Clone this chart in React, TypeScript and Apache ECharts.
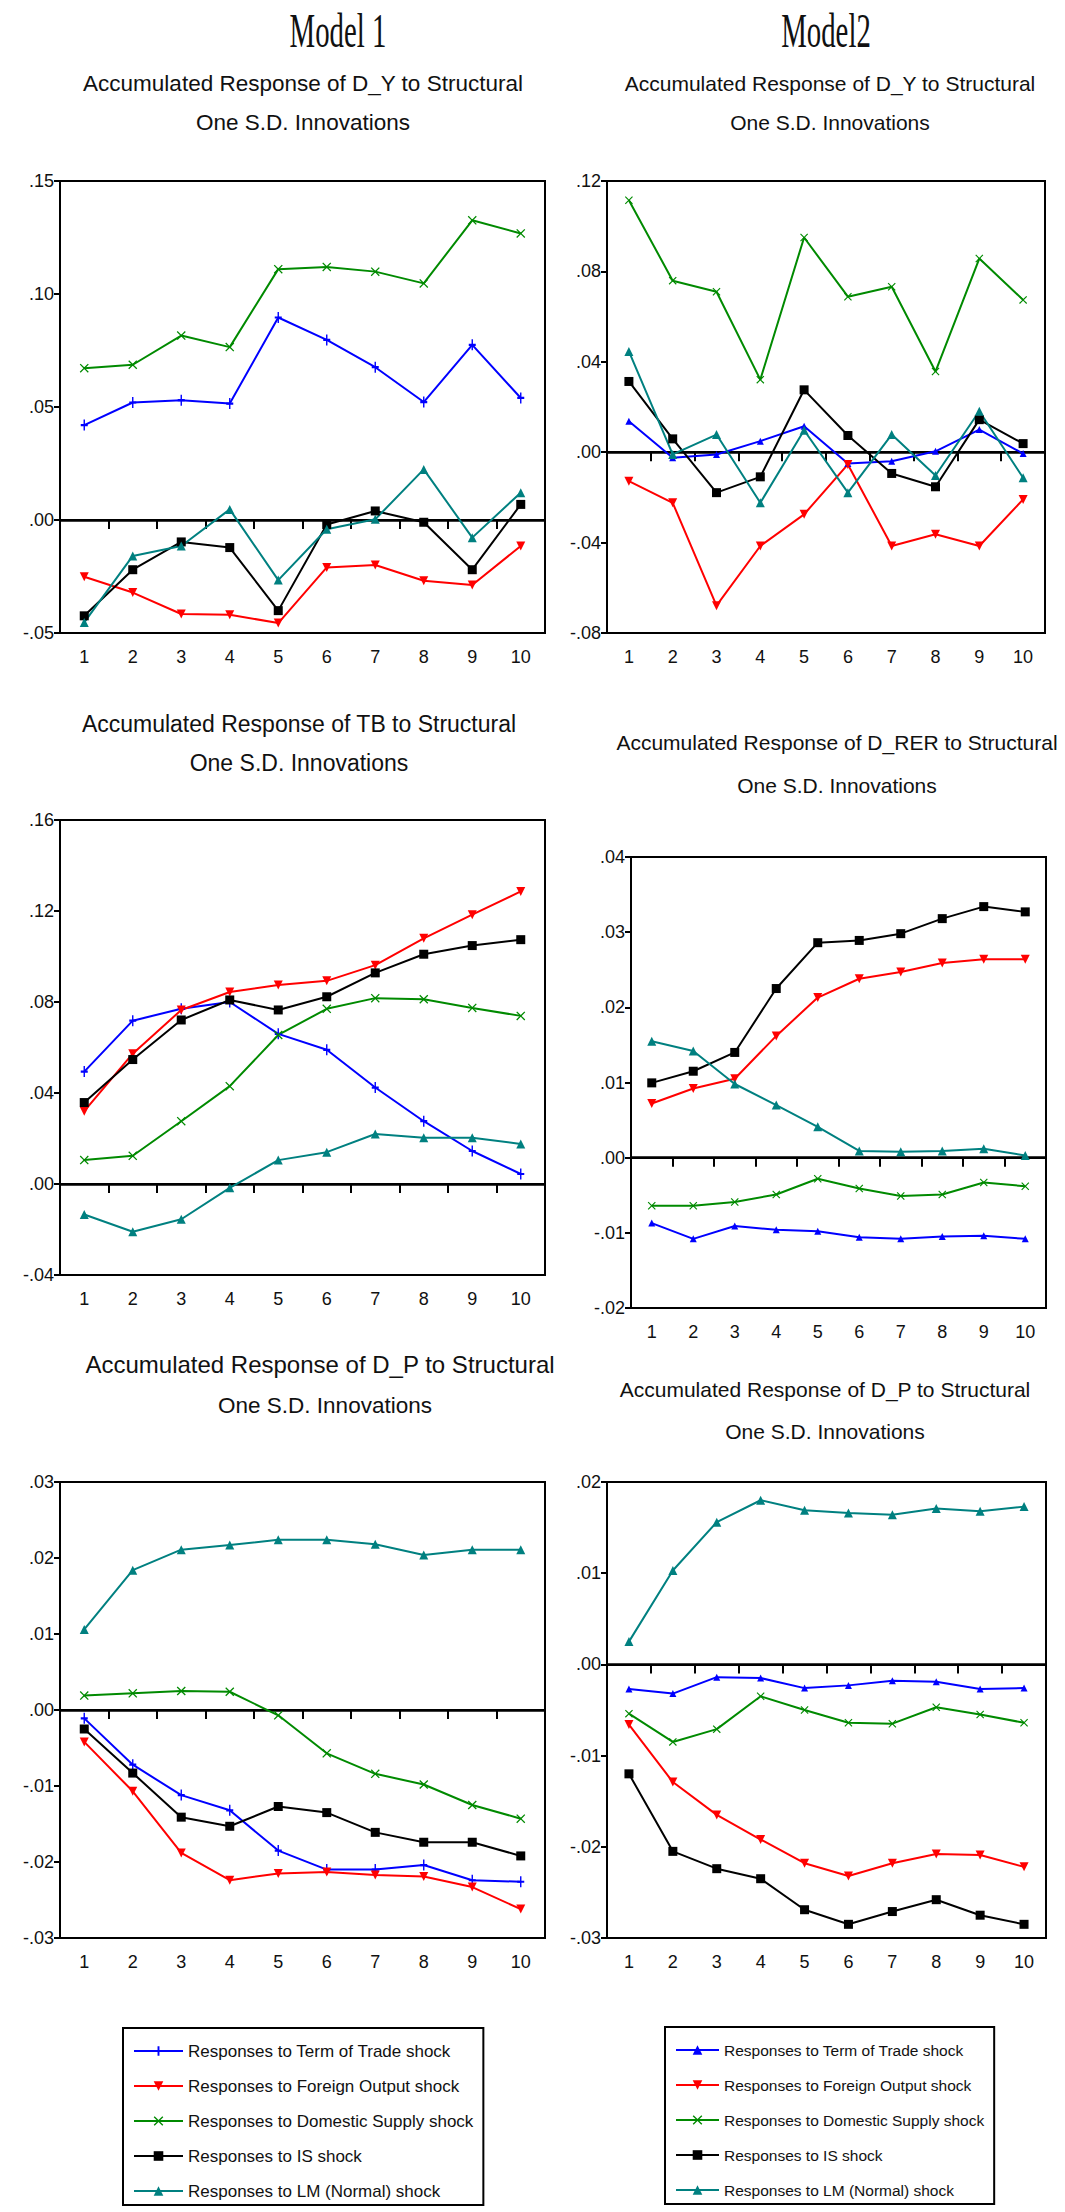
import React, { useEffect, useRef } from "react";
import * as echarts from "echarts";

// ---------- data ----------
const periods = ["1", "2", "3", "4", "5", "6", "7", "8", "9", "10"];
const shockNames = [
  "Responses to Term of Trade shock",
  "Responses to Foreign Output shock",
  "Responses to Domestic Supply shock",
  "Responses to IS shock",
  "Responses to LM (Normal) shock",
];

// Model 1 – Accumulated response of D_Y
const m1DyTot = [0.042, 0.052, 0.053, 0.0515, 0.0896, 0.0797, 0.0676, 0.0522, 0.0775, 0.054];
const m1DyFo = [-0.0251, -0.0321, -0.0416, -0.0419, -0.0456, -0.021, -0.0199, -0.0269, -0.0288, -0.0115];
const m1DyDs = [0.0672, 0.0687, 0.0816, 0.0765, 0.111, 0.112, 0.1099, 0.1047, 0.1326, 0.1268];
const m1DyIs = [-0.0424, -0.022, -0.0097, -0.0122, -0.0401, -0.002, 0.004, -0.001, -0.022, 0.0069];
const m1DyLm = [-0.0453, -0.0159, -0.0115, 0.0047, -0.0266, -0.0041, 0.0003, 0.0224, -0.0078, 0.0121];

// Model 2 – Accumulated response of D_Y
const m2DyTot = [0.0137, -0.0025, -0.001, 0.0049, 0.0115, -0.005, -0.004, 0.0004, 0.01, -0.0006];
const m2DyFo = [-0.0128, -0.0224, -0.0679, -0.0415, -0.0275, -0.0054, -0.0415, -0.0363, -0.0415, -0.0209];
const m2DyDs = [0.1115, 0.0759, 0.071, 0.0321, 0.095, 0.0688, 0.0732, 0.0357, 0.0857, 0.0674];
const m2DyIs = [0.0313, 0.0059, -0.0179, -0.0109, 0.0276, 0.0074, -0.0094, -0.0153, 0.0144, 0.0038];
const m2DyLm = [0.0446, -0.001, 0.0078, -0.0224, 0.0097, -0.0179, 0.0078, -0.0103, 0.0181, -0.0113];

// Model 1 – Accumulated response of TB
const m1TbTot = [0.0494, 0.0718, 0.077, 0.08, 0.066, 0.059, 0.0424, 0.0276, 0.0145, 0.0044];
const m1TbFo = [0.032, 0.0573, 0.0765, 0.0844, 0.0875, 0.0893, 0.0962, 0.108, 0.1184, 0.1286];
const m1TbDs = [0.0105, 0.0124, 0.0276, 0.043, 0.0655, 0.077, 0.0817, 0.0812, 0.0774, 0.0739];
const m1TbIs = [0.0358, 0.0547, 0.0721, 0.0809, 0.0765, 0.0823, 0.0928, 0.101, 0.1048, 0.1074];
const m1TbLm = [-0.0134, -0.021, -0.0155, -0.0017, 0.0105, 0.014, 0.022, 0.0203, 0.0203, 0.0176];

// Model 2 – Accumulated response of D_RER
const m2RerTot = [-0.0087, -0.0108, -0.0091, -0.0096, -0.0098, -0.0106, -0.0108, -0.0105, -0.0104, -0.0108];
const m2RerFo = [0.0072, 0.0092, 0.0105, 0.0162, 0.0213, 0.0238, 0.0247, 0.0259, 0.0264, 0.0264];
const m2RerDs = [-0.0064, -0.0064, -0.0059, -0.0049, -0.0028, -0.0041, -0.0051, -0.0049, -0.0033, -0.0038];
const m2RerIs = [0.00995, 0.0115, 0.014, 0.0225, 0.0286, 0.0289, 0.0298, 0.0318, 0.0334, 0.0327];
const m2RerLm = [0.0155, 0.0142, 0.0098, 0.007, 0.0041, 0.0009, 0.0008, 0.0009, 0.0012, 0.0003];

// Model 1 – Accumulated response of D_P
const m1DpTot = [-0.0011, -0.0072, -0.0112, -0.0132, -0.0185, -0.021, -0.021, -0.0204, -0.0224, -0.0226];
const m1DpFo = [-0.0042, -0.0107, -0.0188, -0.0224, -0.0215, -0.0213, -0.0217, -0.0219, -0.0233, -0.0262];
const m1DpDs = [0.0019, 0.0022, 0.0025, 0.0024, -0.0007, -0.0057, -0.0084, -0.0098, -0.0125, -0.0143];
const m1DpIs = [-0.0025, -0.0083, -0.0141, -0.0153, -0.0127, -0.0135, -0.0161, -0.0174, -0.0174, -0.0192];
const m1DpLm = [0.0106, 0.0184, 0.0211, 0.0217, 0.0224, 0.0224, 0.0218, 0.0204, 0.0211, 0.0211];

// Model 2 – Accumulated response of D_P
const m2DpTot = [-0.0027, -0.0032, -0.0014, -0.0015, -0.0026, -0.0023, -0.0018, -0.0019, -0.0027, -0.0026];
const m2DpFo = [-0.0066, -0.0129, -0.0165, -0.0192, -0.0218, -0.0232, -0.0218, -0.0208, -0.0209, -0.0222];
const m2DpDs = [-0.0054, -0.0085, -0.0071, -0.0035, -0.005, -0.0064, -0.0065, -0.0047, -0.0055, -0.0064];
const m2DpIs = [-0.012, -0.0205, -0.0224, -0.0235, -0.0269, -0.0285, -0.0271, -0.0258, -0.0275, -0.0285];
const m2DpLm = [0.0025, 0.0103, 0.0156, 0.018, 0.0169, 0.0166, 0.0164, 0.0171, 0.0168, 0.0173];

// axis ranges [min, max, interval]
const m1DyRange = [-0.05, 0.15, 0.05];
const m2DyRange = [-0.08, 0.12, 0.04];
const m1TbRange = [-0.04, 0.16, 0.04];
const m2RerRange = [-0.02, 0.04, 0.01];
const m1DpRange = [-0.03, 0.03, 0.01];
const m2DpRange = [-0.03, 0.02, 0.01];

// ---------- styles ----------
const colors = ["#0000ff", "#ff0000", "#008a00", "#000000", "#008080"];
const NARROW = "'Liberation Sans Narrow', 'Arial Narrow', 'Liberation Sans', Arial, sans-serif";
const SANS = "'Liberation Sans', Arial, sans-serif";
const SERIF = "'Liberation Serif', 'Times New Roman', serif";

const PLUS = "path://M4,0L6,0L6,4L10,4L10,6L6,6L6,10L4,10L4,6L0,6L0,4L4,4Z";
const CROSS = "path://M1,0L5,4L9,0L10,1L6,5L10,9L9,10L5,6L1,10L0,9L4,5L0,1Z";
const DOWN = "path://M0,0L10,0L5,10Z";

const m1Symbols = [
  { symbol: PLUS, size: [7, 11] },
  { symbol: DOWN, size: 9 },
  { symbol: CROSS, size: 9 },
  { symbol: "rect", size: 9 },
  { symbol: "triangle", size: 9 },
];
const m2Symbols = [
  { symbol: "triangle", size: 7 },
  { symbol: DOWN, size: 9 },
  { symbol: CROSS, size: 8 },
  { symbol: "rect", size: 9 },
  { symbol: "triangle", size: 9 },
];

const yLabel = (v: number) => {
  const s = Math.abs(v) < 1e-9 ? "0.00" : v.toFixed(2);
  return s.replace(/^(-?)0\./, "$1.");
};

type Panel = {
  left: number;
  top: number;
  width: number;
  height: number;
  range: number[];
  data: number[][];
};
type Title = { text: string; x: number; y: number; size: number; family: string; scaleX: number };

function buildOption(
  panels: Panel[],
  symbols: { symbol: string; size: any }[],
  titles: Title[],
  legendPos: { left: number; top: number; itemWidth: number; fontSize: number }
) {
  const grid = panels.map((p) => ({
    left: p.left,
    top: p.top,
    width: p.width,
    height: p.height,
    show: true,
    borderColor: "#000",
    borderWidth: 2,
    backgroundColor: "transparent",
  }));
  const xAxis = panels.map((_, i) => ({
    type: "category",
    gridIndex: i,
    data: periods,
    boundaryGap: true,
    axisLine: { show: true, lineStyle: { color: "#000", width: 2 } },
    axisTick: { show: true, inside: false, length: 9, interval: 0, lineStyle: { color: "#000", width: 2 } },
    axisLabel: { interval: 0, margin: 15, fontSize: 18, fontFamily: NARROW, color: "#111" },
    splitLine: { show: false },
  }));
  const yAxis = panels.map((p, i) => ({
    type: "value",
    gridIndex: i,
    min: p.range[0],
    max: p.range[1],
    interval: p.range[2],
    axisLine: { show: true, lineStyle: { color: "#000", width: 2 } },
    axisTick: { show: true, inside: false, length: 6, lineStyle: { color: "#000", width: 2 } },
    axisLabel: { formatter: yLabel, margin: 6, fontSize: 18, fontFamily: NARROW, color: "#111" },
    splitLine: { show: false },
  }));
  const series: any[] = [];
  panels.forEach((p, i) => {
    p.data.forEach((d, k) => {
      series.push({
        name: shockNames[k],
        type: "line",
        xAxisIndex: i,
        yAxisIndex: i,
        data: d,
        symbol: symbols[k].symbol,
        symbolSize: symbols[k].size,
        showAllSymbol: true,
        lineStyle: { color: colors[k], width: 2 },
        itemStyle: { color: colors[k] },
        z: 3,
        markLine:
          k === 0
            ? {
                silent: true,
                symbol: ["none", "none"],
                label: { show: false },
                lineStyle: { color: "#000", width: 2.5, type: "solid" },
                data: [{ yAxis: 0 }],
                z: 2,
              }
            : undefined,
      });
    });
  });
  const graphic = titles.map((t) => ({
    type: "text",
    x: t.x,
    y: t.y,
    scaleX: t.scaleX,
    silent: true,
    style: {
      text: t.text,
      fontSize: t.size,
      fontFamily: t.family,
      fill: "#111",
      textAlign: "center",
      textVerticalAlign: "middle",
    },
  }));
  return {
    animation: false,
    backgroundColor: "#fff",
    grid,
    xAxis,
    yAxis,
    series,
    graphic,
    legend: {
      orient: "vertical",
      left: legendPos.left,
      top: legendPos.top,
      data: shockNames,
      itemWidth: legendPos.itemWidth,
      itemHeight: 12,
      itemGap: 13,
      padding: [12, 10, 3, 10],
      borderColor: "#000",
      borderWidth: 2,
      selectedMode: false,
      textStyle: {
        fontSize: legendPos.fontSize,
        fontFamily: NARROW,
        color: "#111",
        lineHeight: 22,
      },
    },
  };
}

const model1Panels: Panel[] = [
  { left: 60, top: 181, width: 485, height: 452, range: m1DyRange, data: [m1DyTot, m1DyFo, m1DyDs, m1DyIs, m1DyLm] },
  { left: 60, top: 820, width: 485, height: 455, range: m1TbRange, data: [m1TbTot, m1TbFo, m1TbDs, m1TbIs, m1TbLm] },
  { left: 60, top: 1482, width: 485, height: 456, range: m1DpRange, data: [m1DpTot, m1DpFo, m1DpDs, m1DpIs, m1DpLm] },
];
const model2Panels: Panel[] = [
  { left: 52, top: 181, width: 438, height: 452, range: m2DyRange, data: [m2DyTot, m2DyFo, m2DyDs, m2DyIs, m2DyLm] },
  { left: 76, top: 857, width: 415, height: 451, range: m2RerRange, data: [m2RerTot, m2RerFo, m2RerDs, m2RerIs, m2RerLm] },
  { left: 52, top: 1482, width: 439, height: 456, range: m2DpRange, data: [m2DpTot, m2DpFo, m2DpDs, m2DpIs, m2DpLm] },
];

const model1Titles: Title[] = [
  { text: "Model 1", x: 338, y: 31, size: 48, family: SERIF, scaleX: 0.6 },
  { text: "Accumulated Response of D_Y to Structural", x: 303, y: 83, size: 22.5, family: SANS, scaleX: 1 },
  { text: "One S.D. Innovations", x: 303, y: 122, size: 22.5, family: SANS, scaleX: 1 },
  { text: "Accumulated Response of TB to Structural", x: 299, y: 724, size: 23, family: SANS, scaleX: 1 },
  { text: "One S.D. Innovations", x: 299, y: 763, size: 23, family: SANS, scaleX: 1 },
  { text: "Accumulated Response of D_P to Structural", x: 320, y: 1364, size: 24, family: SANS, scaleX: 1 },
  { text: "One S.D. Innovations", x: 325, y: 1405, size: 22.5, family: SANS, scaleX: 1 },
];
const model2Titles: Title[] = [
  { text: "Model2", x: 271, y: 31, size: 48, family: SERIF, scaleX: 0.6 },
  { text: "Accumulated Response of D_Y to Structural", x: 275, y: 83, size: 21, family: SANS, scaleX: 1 },
  { text: "One S.D. Innovations", x: 275, y: 122, size: 21, family: SANS, scaleX: 1 },
  { text: "Accumulated Response of D_RER to Structural", x: 282, y: 742, size: 21, family: SANS, scaleX: 1 },
  { text: "One S.D. Innovations", x: 282, y: 785, size: 21, family: SANS, scaleX: 1 },
  { text: "Accumulated Response of D_P to Structural", x: 270, y: 1389, size: 21, family: SANS, scaleX: 1 },
  { text: "One S.D. Innovations", x: 270, y: 1431, size: 21, family: SANS, scaleX: 1 },
];

function ChartBox(props: { option: any; left: number; width: number }) {
  const ref = useRef<HTMLDivElement>(null);
  useEffect(() => {
    if (!ref.current) return;
    const chart = echarts.init(ref.current, undefined, { renderer: "svg" });
    chart.setOption(props.option);
    return () => chart.dispose();
  }, []);
  return (
    <div
      ref={ref}
      style={{ position: "absolute", top: 0, left: props.left, width: props.width, height: 2212 }}
    />
  );
}

export default function App() {
  const opt1 = buildOption(model1Panels, m1Symbols, model1Titles, { left: 123, top: 2028, itemWidth: 49, fontSize: 17 });
  const opt2 = buildOption(model2Panels, m2Symbols, model2Titles, { left: 110, top: 2027, itemWidth: 43, fontSize: 15.5 });
  return (
    <div>
      <ChartBox option={opt1} left={0} width={555} />
      <ChartBox option={opt2} left={555} width={510} />
    </div>
  );
}
